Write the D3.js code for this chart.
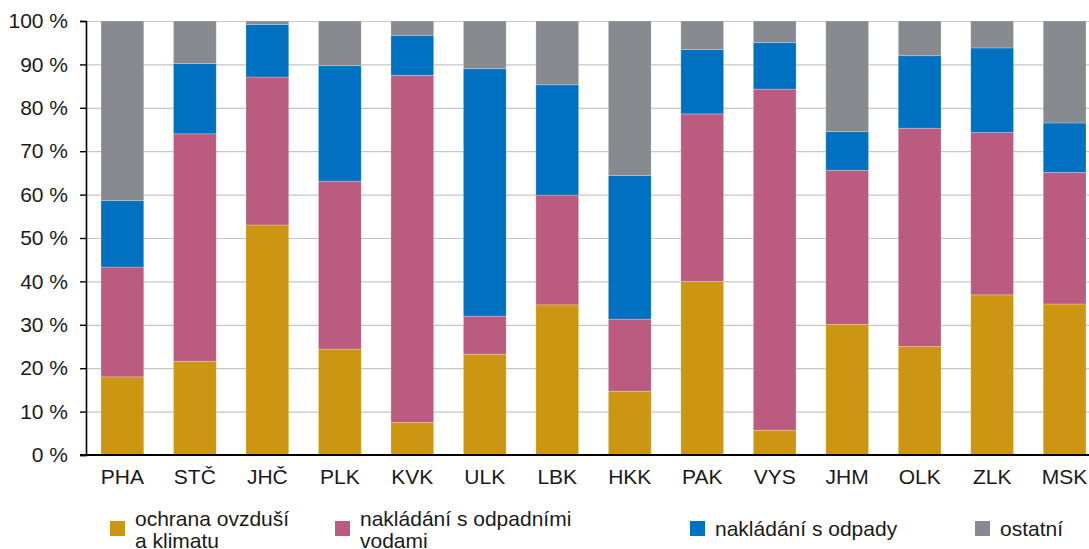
<!DOCTYPE html>
<html>
<head>
    <meta charset="utf-8">
    <script src="https://d3js.org/d3.v7.min.js"></script>
    <style>
        body {
            margin: 0;
            background: #fff;
        }
        svg text {
            font-family: Arial, "Liberation Sans", sans-serif;
            fill: #1a1a1a;
        }
    </style>
</head>
<body>
<div id="chart"></div>
<script>
    // regions (kraje)
    var regions = ["PHA", "STČ", "JHČ", "PLK", "KVK", "ULK", "LBK", "HKK", "PAK", "VYS", "JHM", "OLK", "ZLK", "MSK"];

    // shares in % per region
    var ovzdusi = [18.0, 21.6, 53.0, 24.4, 7.5, 23.2, 34.6, 14.7, 40.0, 5.7, 30.1, 25.0, 36.9, 34.8];
    var odpadniVody = [25.3, 52.4, 34.1, 38.7, 80.0, 8.8, 25.3, 16.6, 38.6, 78.6, 35.5, 50.3, 37.4, 30.3];
    var odpady = [15.3, 16.2, 12.1, 26.6, 9.2, 57.0, 25.4, 33.1, 14.8, 10.7, 8.9, 16.7, 19.5, 11.4];
    var ostatni = [41.4, 9.8, 0.8, 10.3, 3.3, 11.0, 14.7, 35.6, 6.6, 5.0, 25.5, 8.0, 6.2, 23.5];

    var seriesKeys = ["ovzdusi", "vody", "odpady", "ostatni"];
    var seriesNames = [["ochrana ovzduší", "a klimatu"], ["nakládání s odpadními", "vodami"], ["nakládání s odpady"], ["ostatní"]];
    var seriesColors = ["#cc9512", "#bb5b7f", "#0070c0", "#878a8f"];
    var yTicks = [0, 10, 20, 30, 40, 50, 60, 70, 80, 90, 100];

    var table = regions.map(function (r, i) {
        return { region: r, ovzdusi: ovzdusi[i], vody: odpadniVody[i], odpady: odpady[i], ostatni: ostatni[i] };
    });

    var W = 1089, H = 549;
    var plotLeft = 86, plotTop = 21, plotBottom = 455;
    var fontSize = "21px";

    var svg = d3.select("#chart").append("svg")
        .attr("width", W)
        .attr("height", H);

    var x = d3.scaleBand()
        .domain(regions)
        .range([plotLeft, 1101])
        .paddingInner(0.41)
        .paddingOuter(0.207);

    var y = d3.scaleLinear()
        .domain([0, 100])
        .range([plotBottom, plotTop]);

    // gridlines
    svg.append("g")
        .selectAll("line")
        .data(yTicks.slice(1))
        .enter().append("line")
        .attr("x1", plotLeft)
        .attr("x2", W)
        .attr("y1", function (d) { return y(d) + 0.5; })
        .attr("y2", function (d) { return y(d) + 0.5; })
        .attr("stroke", "#c6c6c6")
        .attr("stroke-width", 1.2);

    // stacked bars
    var stack = d3.stack().keys(seriesKeys);
    var layers = stack(table);

    svg.append("g")
        .selectAll("g")
        .data(layers)
        .enter().append("g")
        .attr("fill", function (d, i) { return seriesColors[i]; })
        .selectAll("rect")
        .data(function (d) { return d; })
        .enter().append("rect")
        .attr("x", function (d) { return x(d.data.region); })
        .attr("width", x.bandwidth())
        .attr("y", function (d) { return y(d[1]); })
        .attr("height", function (d) { return y(d[0]) - y(d[1]); })
        .attr("stroke", "rgba(255,255,255,0.3)")
        .attr("stroke-width", 0.8);

    // y axis
    var yAxis = d3.axisLeft(y)
        .tickValues(yTicks)
        .tickSize(6)
        .tickPadding(12)
        .tickFormat(function (d) { return d + " %"; });

    var gy = svg.append("g")
        .attr("transform", "translate(" + plotLeft + ",0)")
        .call(yAxis);
    gy.select(".domain").attr("stroke", "#000").attr("stroke-width", 1.6);
    gy.selectAll(".tick line").attr("stroke", "#000").attr("stroke-width", 1.4);
    gy.selectAll(".tick text")
        .style("font-size", fontSize)
        .attr("fill", "#1a1a1a");

    // x axis
    var xAxis = d3.axisBottom(x).tickSize(0).tickPadding(14);
    var gx = svg.append("g")
        .attr("transform", "translate(0," + plotBottom + ")")
        .call(xAxis);
    gx.select(".domain").remove();
    gx.selectAll(".tick text")
        .style("font-size", fontSize)
        .attr("fill", "#1a1a1a");

    svg.append("line")
        .attr("x1", plotLeft - 6)
        .attr("x2", W)
        .attr("y1", plotBottom)
        .attr("y2", plotBottom)
        .attr("stroke", "#000")
        .attr("stroke-width", 2);

    // legend
    var legendSquareX = [110, 335, 690, 975];
    var legend = svg.append("g");
    seriesNames.forEach(function (lines, i) {
        var g = legend.append("g");
        g.append("rect")
            .attr("x", legendSquareX[i])
            .attr("y", 521)
            .attr("width", 15)
            .attr("height", 15)
            .attr("fill", seriesColors[i]);
        var t = g.append("text")
            .attr("x", legendSquareX[i] + 25)
            .attr("y", lines.length > 1 ? 526 : 536)
            .style("font-size", fontSize);
        lines.forEach(function (l, j) {
            t.append("tspan")
                .attr("x", legendSquareX[i] + 25)
                .attr("dy", j === 0 ? 0 : 22)
                .text(l);
        });
    });
</script>
</body>
</html>
